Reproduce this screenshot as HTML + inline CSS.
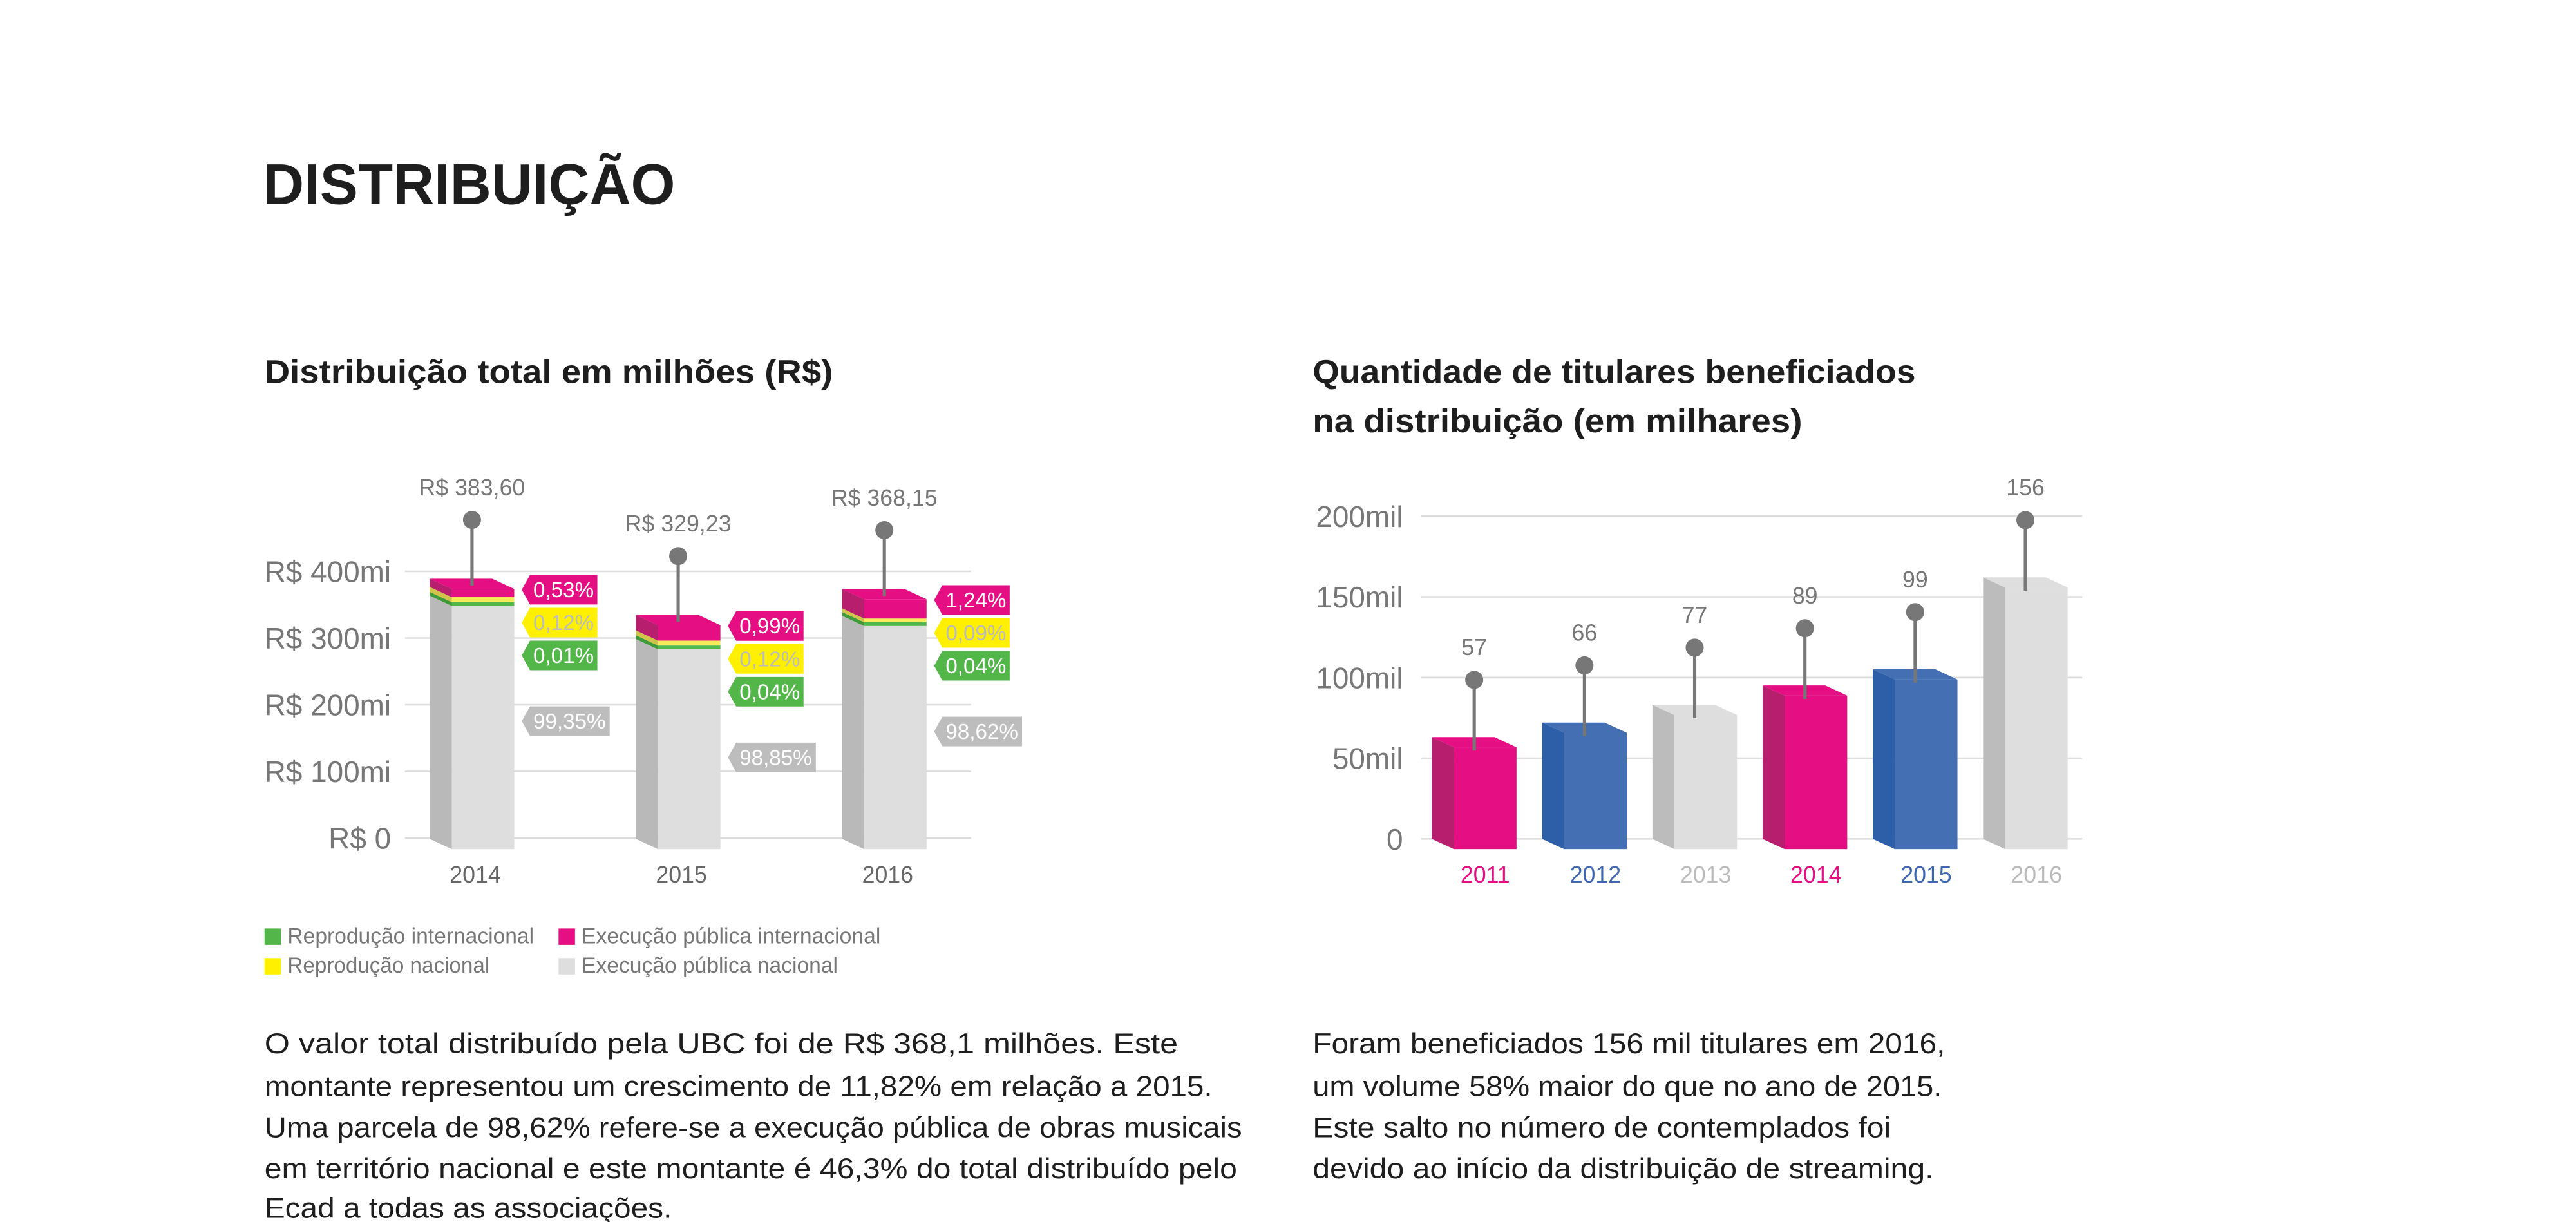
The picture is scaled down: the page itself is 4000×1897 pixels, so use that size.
<!DOCTYPE html>
<html><head><meta charset="utf-8">
<style>
html,body{margin:0;padding:0;background:#fff;}
svg{display:block;}
text{font-family:"Liberation Sans",sans-serif;}
</style></head>
<body>
<svg id="root" width="4000" height="1897" viewBox="0 0 1568 743.6" preserveAspectRatio="none" xmlns="http://www.w3.org/2000/svg">
<rect x="0" y="0" width="1568" height="743.6" fill="#fff"/>
<text x="160" y="124" font-size="35" font-weight="bold" fill="#1e1e1e" textLength="251" lengthAdjust="spacingAndGlyphs">DISTRIBUIÇÃO</text>
<text x="161" y="233" font-size="20" font-weight="bold" fill="#1e1e1e" textLength="346" lengthAdjust="spacingAndGlyphs">Distribuição total em milhões (R$)</text>
<text x="799" y="233" font-size="20" font-weight="bold" fill="#1e1e1e" textLength="367" lengthAdjust="spacingAndGlyphs">Quantidade de titulares beneficiados</text>
<text x="799" y="263" font-size="20" font-weight="bold" fill="#1e1e1e" textLength="298" lengthAdjust="spacingAndGlyphs">na distribuição (em milhares)</text>

<g id="left"></g>
<g id="right"></g>

<g font-size="13.5" fill="#777">
<rect x="161" y="565" width="10" height="10" fill="#52b748"/>
<text x="175" y="574" textLength="150" lengthAdjust="spacingAndGlyphs">Reprodução internacional</text>
<rect x="161" y="583" width="10" height="10" fill="#fff000"/>
<text x="175" y="592" textLength="123" lengthAdjust="spacingAndGlyphs">Reprodução nacional</text>
<rect x="340" y="565" width="10" height="10" fill="#e50e83"/>
<text x="354" y="574" textLength="182" lengthAdjust="spacingAndGlyphs">Execução pública internacional</text>
<rect x="340" y="583" width="10" height="10" fill="#dedede"/>
<text x="354" y="592" textLength="156" lengthAdjust="spacingAndGlyphs">Execução pública nacional</text>
</g>

<g font-size="17.5" fill="#1e1e1e">
<text x="161" y="641" textLength="556" lengthAdjust="spacingAndGlyphs">O valor total distribuído pela UBC foi de R$ 368,1 milhões. Este</text>
<text x="161" y="667" textLength="577" lengthAdjust="spacingAndGlyphs">montante representou um crescimento de 11,82% em relação a 2015.</text>
<text x="161" y="692" textLength="595" lengthAdjust="spacingAndGlyphs">Uma parcela de 98,62% refere-se a execução pública de obras musicais</text>
<text x="161" y="717" textLength="592" lengthAdjust="spacingAndGlyphs">em território nacional e este montante é 46,3% do total distribuído pelo</text>
<text x="161" y="741" textLength="248" lengthAdjust="spacingAndGlyphs">Ecad a todas as associações.</text>
</g>
<g font-size="17.5" fill="#1e1e1e">
<text x="799" y="641" textLength="385" lengthAdjust="spacingAndGlyphs">Foram beneficiados 156 mil titulares em 2016,</text>
<text x="799" y="667" textLength="383" lengthAdjust="spacingAndGlyphs">um volume 58% maior do que no ano de 2015.</text>
<text x="799" y="692" textLength="352" lengthAdjust="spacingAndGlyphs">Este salto no número de contemplados foi</text>
<text x="799" y="717" textLength="378" lengthAdjust="spacingAndGlyphs">devido ao início da distribuição de streaming.</text>
</g>
</svg>
<script>
// ---- Left chart data ----
const years = ["2014", "2015", "2016"];
const totals = [383.60, 329.23, 368.15];
const totalLabels = ["R$ 383,60", "R$ 329,23", "R$ 368,15"];
const pctExecInt = [0.53, 0.99, 1.24];
const pctRepNac = [0.12, 0.12, 0.09];
const pctRepInt = [0.01, 0.04, 0.04];
const pctExecNac = [99.35, 98.85, 98.62];
const pctExecIntLabels = ["0,53%", "0,99%", "1,24%"];
const pctRepNacLabels = ["0,12%", "0,12%", "0,09%"];
const pctRepIntLabels = ["0,01%", "0,04%", "0,04%"];
const pctExecNacLabels = ["99,35%", "98,85%", "98,62%"];
const leftTicks = [0, 100, 200, 300, 400];
const leftTickLabels = ["R$ 0", "R$ 100mi", "R$ 200mi", "R$ 300mi", "R$ 400mi"];
// ---- Right chart data ----
const benYears = ["2011", "2012", "2013", "2014", "2015", "2016"];
const benValues = [57, 66, 77, 89, 99, 156];
const rightTicks = [0, 50, 100, 150, 200];
const rightTickLabels = ["0", "50mil", "100mil", "150mil", "200mil"];

const NS = "http://www.w3.org/2000/svg";
function mk(parent, tag, attrs, txt) {
  const e = document.createElementNS(NS, tag);
  for (const k in attrs) e.setAttribute(k, attrs[k]);
  if (txt !== undefined) e.textContent = txt;
  parent.appendChild(e);
  return e;
}
const DX = 13.4, DY = 6.2;
function poly(p){return p.map(a=>a[0].toFixed(2)+","+a[1].toFixed(2)).join(" ");}

// ---------- LEFT ----------
const L = document.getElementById("left");
const lY0 = 510, lK = 162.3 / 400;
function ly(v){ return lY0 - v * lK; }
const lX0 = 275, lStep = 125.5, lW = 38;
function lx(i){ return lX0 + i * lStep; }
leftTicks.forEach((t, i) => {
  const g = mk(L, "line", {x1:246.5, x2:591, y1:ly(t), y2:ly(t), stroke:"#dcdcdc", "stroke-width":1});
  
  
  const tx = mk(L, "text", {x:238, y:ly(t)+6.5, "font-size":18, fill:"#777", "text-anchor":"end"}, leftTickLabels[i]);
  
  
});
function prism(g, x, top, bot, front, side, name) {
  const s = mk(g, "polygon", {points: poly([[x-DX, top-DY],[x, top],[x, bot],[x-DX, bot-DY]]), fill: side});
  
  
  const f = mk(g, "rect", {x:x, y:top, width:lW, height:Math.max(0, bot-top), fill: front});
  
  
}
function tag(g, x0, y0, w, fill, txtFill, label, name) {
  const h = 18;
  const p = mk(g, "polygon", {points: poly([[x0,y0],[x0+w,y0],[x0+w,y0+h],[x0,y0+h],[x0-5,y0+h/2]]), fill: fill});
  
  
  const t = mk(g, "text", {x:x0+2, y:y0+13.5, "font-size":13, fill: txtFill}, label);
  
  
}
years.forEach((yr, i) => {
  const g = mk(L, "g", {});
  
  
  const x = lx(i);
  const bottom = 516.7;
  const top = ly(totals[i]) + 4;
  const hP = Math.max(4, pctExecInt[i] * 9.5);
  const hY = Math.max(2, pctRepNac[i] * 25);
  const hG = Math.max(2.3, pctRepInt[i] * 40);
  const y1 = top + hP, y2 = y1 + hY, y3 = y2 + hG;
  prism(g, x, y3, bottom, "#dedede", "#b8b9b8", 'segment-execucao-nacional-' + yr);
  prism(g, x, y2, y3, "#52b748", "#3f9a3a", 'segment-reproducao-internacional-' + yr);
  prism(g, x, y1, y2, "#f7ea5b", "#cfc34a", 'segment-reproducao-nacional-' + yr);
  prism(g, x, top, y1, "#e50e83", "#b81e6e", 'segment-execucao-internacional-' + yr);
  const tp = mk(g, "polygon", {points: poly([[x-DX, top-DY],[x+lW-DX*0.0-DX, top-DY],[x+lW, top],[x, top]]), fill:"#e50e83"});
  
  
  // lollipop
  const cx = x + (lW - DX) / 2;
  const cy = ly(totals[i]) - 38;
  const ln = mk(g, "line", {x1:cx, x2:cx, y1:cy, y2:top - 2, stroke:"#777", "stroke-width":2});
  
  
  const c = mk(g, "circle", {cx:cx, cy:cy, r:5.5, fill:"#777"});
  
  
  const lt = mk(g, "text", {x:cx, y:cy-15, "font-size":14, fill:"#777", "text-anchor":"middle"}, totalLabels[i]);
  
  
  // tags
  const tx0 = x + 47.6, w = 41;
  const pt = top - 8.5;
  tag(g, tx0, pt, w, "#e50e83", "#fff", pctExecIntLabels[i], 'tag-execucao-internacional-' + yr);
  tag(g, tx0, pt + 20, w, "#fff000", "#bbb", pctRepNacLabels[i], 'tag-reproducao-nacional-' + yr);
  tag(g, tx0, pt + 40, w, "#52b748", "#fff", pctRepIntLabels[i], 'tag-reproducao-internacional-' + yr);
  tag(g, tx0, pt + 80, 48.5, "#bdbdbd", "#fff", pctExecNacLabels[i], 'tag-execucao-nacional-' + yr);
  const yl = mk(g, "text", {x:cx + 2, y:537, "font-size":14, fill:"#666", "text-anchor":"middle"}, yr);
  
  
});

// ---------- RIGHT ----------
const R = document.getElementById("right");
const rY0 = 510.5, rK = 196.4 / 200;
function ry(v){ return rY0 - v * rK; }
const rX0 = 885, rStep = 67.1, rW = 38.1;
function rx(i){ return rX0 + i * rStep; }
rightTicks.forEach((t, i) => {
  const g = mk(R, "line", {x1:865, x2:1267.4, y1:ry(t), y2:ry(t), stroke:"#dcdcdc", "stroke-width":1});
  
  
  const tx = mk(R, "text", {x:854, y:ry(t)+6.5, "font-size":18, fill:"#777", "text-anchor":"end"}, rightTickLabels[i]);
  
  
});
const frontCols = ["#e50e83", "#4470b3", "#dedede"];
const sideCols = ["#b81e6e", "#2d5ea8", "#bbbcbb"];
const labelCols = ["#e50e83", "#3f66b0", "#bbbbbb"];
benYears.forEach((yr, i) => {
  const g = mk(R, "g", {});
  
  
  const x = rx(i), bottom = 516.7;
  const top = ry(benValues[i]) - 6 + DY;
  const fc = frontCols[i % 3], sc = sideCols[i % 3];
  const s = mk(g, "polygon", {points: poly([[x-DX, top-DY],[x, top],[x, bottom],[x-DX, bottom-DY]]), fill: sc});
  
  
  const tp = mk(g, "polygon", {points: poly([[x-DX, top-DY],[x+rW-DX, top-DY],[x+rW, top],[x, top]]), fill: fc});
  
  
  const f = mk(g, "rect", {x:x, y:top, width:rW, height:bottom-top, fill: fc});
  
  
  const cx = x + (rW - DX) / 2;
  const cy = ry(benValues[i]) - 40.8;
  const ln = mk(g, "line", {x1:cx, x2:cx, y1:cy, y2:top + 2, stroke:"#777", "stroke-width":2});
  
  
  const c = mk(g, "circle", {cx:cx, cy:cy, r:5.5, fill:"#777"});
  
  
  const vt = mk(g, "text", {x:cx, y:cy-15, "font-size":14, fill:"#777", "text-anchor":"middle"}, String(benValues[i]));
  
  
  const yl = mk(g, "text", {x:x + rW/2, y:537, "font-size":14, fill: labelCols[i % 3], "text-anchor":"middle"}, yr);
  
  
});
</script>
</body></html>
